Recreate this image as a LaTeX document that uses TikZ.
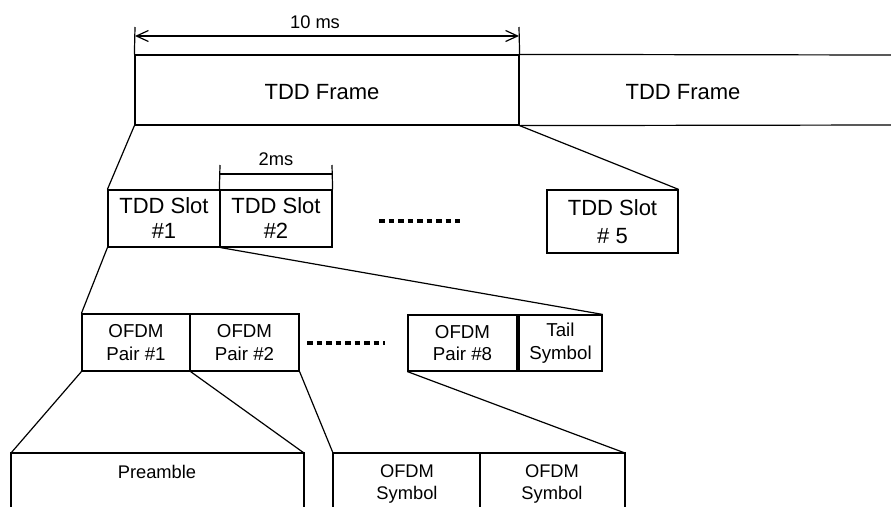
\documentclass[tikz,border=0pt]{standalone}
\usepackage{fontspec}
\setmainfont{Liberation Sans}
\usetikzlibrary{arrows.meta}
\begin{document}
\begin{tikzpicture}[x=1pt,y=-1pt,
  ln/.style={line width=1.2pt, draw=black},
  box/.style={draw=black, line width=1.2pt, inner sep=0pt, align=center},
  big/.style={font=\fontsize{22}{25}\selectfont, align=center},
  bigw/.style={font=\fontsize{22}{28}\selectfont, align=center},
  med/.style={font=\fontsize{18.7}{22.5}\selectfont, align=center},
  small/.style={font=\fontsize{18.3}{22}\selectfont, align=center},
  dotline/.style={line width=4.5pt, dash pattern=on 5.5pt off 4pt},
  barb/.style={{Straight Barb[length=12pt,width=11pt]}-{Straight Barb[length=12pt,width=11pt]}}
]
\useasboundingbox (0,0) rectangle (891,506);

% ---- top level: frames
\node[box, minimum width=384pt, minimum height=70pt] (f1) at (327,90) {};
\node[big] (f1t) at (322,92) {TDD Frame};
\coordinate (f2ne) at (892,55);
\coordinate (f2se) at (892,125);
\draw[ln] (f1.north east) -- (f2ne);
\draw[ln] (f1.south east) -- (f2se);
\node[big] (f2t) at (683,92) {TDD Frame};

% 10 ms dimension
\coordinate (t1) at (135,27);
\coordinate (t2) at (519,27);
\coordinate (a1) at (135,36);
\coordinate (a2) at (519,36);
\draw[ln] (t1) -- (f1.north west);
\draw[ln] (t2) -- (f1.north east);
\draw[ln, barb] (a1) -- (a2);
\node[small] (tenms) at (315,22) {10 ms};

% ---- slots
\node[box, big, minimum width=112pt, minimum height=57pt] (s1) at (164,218.5) {TDD Slot\\\#1};
\node[box, big, minimum width=112pt, minimum height=57pt] (s2) at (276,218.5) {TDD Slot\\\#2};
\node[box, bigw, minimum width=131pt, minimum height=63pt] (s5) at (612.5,221.5) {TDD Slot\\\# 5};
\coordinate (b1) at (220,165);
\coordinate (b2) at (332,165);
\coordinate (c1) at (220,174);
\coordinate (c2) at (332,174);
\draw[ln] (s2.north west) -- (b1);
\draw[ln] (s2.north east) -- (b2);
\draw[ln] (c1) -- (c2);
\node[small] (twoms) at (276,159) {2ms};
\coordinate (d1) at (379,221);
\coordinate (d2) at (460,221);
\draw[dotline] (d1) -- (d2);

% ---- OFDM pairs
\node[box, med, minimum width=108pt, minimum height=57pt] (p1) at (136,342.5) {OFDM\\Pair \#1};
\node[box, med, minimum width=109pt, minimum height=57pt] (p2) at (244.5,342.5) {OFDM\\Pair \#2};
\node[box, med, minimum width=109pt, minimum height=56pt] (p8) at (462.5,343) {OFDM\\Pair \#8};
\node[box, med, minimum width=83pt, minimum height=56pt] (tail) at (560.5,343) {Tail\\Symbol};
\coordinate (e1) at (307,343);
\coordinate (e2) at (385,343);
\draw[dotline] (e1) -- (e2);

% ---- bottom level (open at the bottom)
\coordinate (preSW) at (11,507);
\coordinate (preNW) at (11,453);
\coordinate (preNE) at (304,453);
\coordinate (preSE) at (304,507);
\draw[ln] (preSW) -- (preNW) -- (preNE) -- (preSE);
\node[small] (preT) at (157,472) {Preamble};

\coordinate (sym1SW) at (333,507);
\coordinate (sym1NW) at (333,453);
\coordinate (sym1NE) at (480,453);
\coordinate (sym1SE) at (480,507);
\coordinate (sym2NE) at (625,453);
\coordinate (sym2SE) at (625,507);
\draw[ln] (sym1SW) -- (sym1NW) -- (sym2NE) -- (sym2SE);
\draw[ln] (sym1NE) -- (sym1SE);
\node[small] (sym1T) at (407,484) {OFDM\\Symbol};
\node[small] (sym2T) at (552,484) {OFDM\\Symbol};

% ---- connectors
\draw[ln] (f1.south west) -- (s1.north west);
\draw[ln] (f1.south east) -- (s5.north east);
\draw[ln] (s1.south west) -- (p1.north west);
\draw[ln] (s1.south east) -- (tail.north east);
\draw[ln] (p1.south west) -- (preNW);
\draw[ln] (p1.south east) -- (preNE);
\draw[ln] (p2.south east) -- (sym1NW);
\draw[ln] (p8.south west) -- (sym2NE);
\end{tikzpicture}
\end{document}
